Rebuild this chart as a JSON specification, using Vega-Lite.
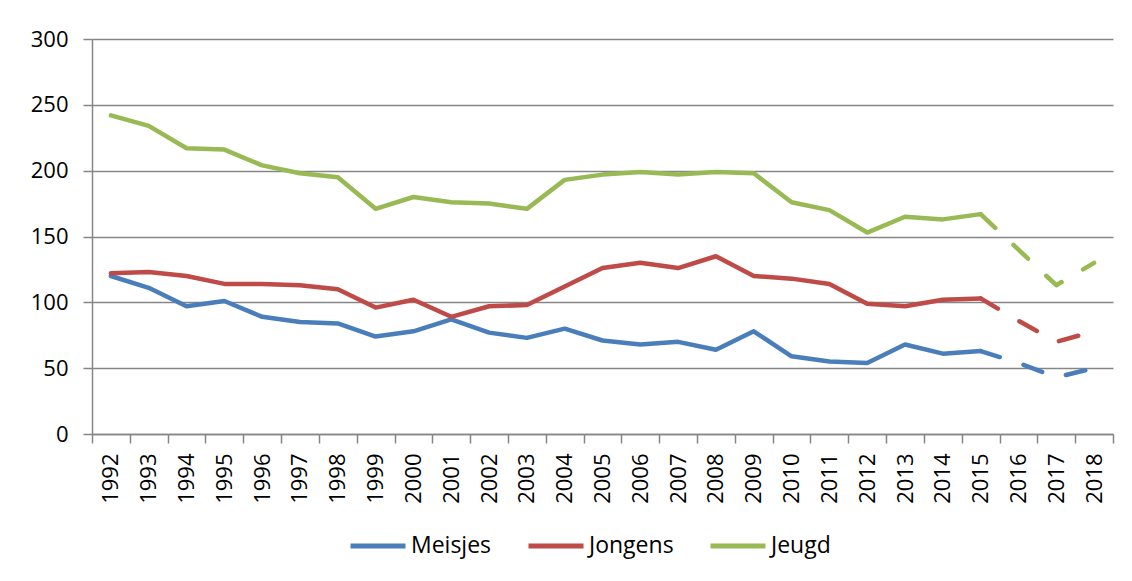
{
  "$schema": "https://vega.github.io/schema/vega-lite/v6.json",
  "width": 1021,
  "height": 395,
  "autosize": "none",
  "padding": {"left": 92, "top": 39, "right": 19, "bottom": 147},
  "background": "white",
  "config": {
    "view": {"stroke": null},
    "font": "Open Sans",
    "axis": {
      "labelFont": "Open Sans",
      "labelFontSize": 22,
      "labelColor": "#000000",
      "domainColor": "#868686",
      "domainWidth": 1.5,
      "tickColor": "#868686",
      "tickWidth": 1.5,
      "tickSize": 9,
      "gridColor": "#868686",
      "gridWidth": 1.5,
      "title": null
    }
  },
  "data": {
    "values": [
      {"year": 1992, "groep": "Meisjes", "aantal": 120}, {"year": 1993, "groep": "Meisjes", "aantal": 111},
      {"year": 1994, "groep": "Meisjes", "aantal": 97}, {"year": 1995, "groep": "Meisjes", "aantal": 101},
      {"year": 1996, "groep": "Meisjes", "aantal": 89}, {"year": 1997, "groep": "Meisjes", "aantal": 85},
      {"year": 1998, "groep": "Meisjes", "aantal": 84}, {"year": 1999, "groep": "Meisjes", "aantal": 74},
      {"year": 2000, "groep": "Meisjes", "aantal": 78}, {"year": 2001, "groep": "Meisjes", "aantal": 87},
      {"year": 2002, "groep": "Meisjes", "aantal": 77}, {"year": 2003, "groep": "Meisjes", "aantal": 73},
      {"year": 2004, "groep": "Meisjes", "aantal": 80}, {"year": 2005, "groep": "Meisjes", "aantal": 71},
      {"year": 2006, "groep": "Meisjes", "aantal": 68}, {"year": 2007, "groep": "Meisjes", "aantal": 70},
      {"year": 2008, "groep": "Meisjes", "aantal": 64}, {"year": 2009, "groep": "Meisjes", "aantal": 78},
      {"year": 2010, "groep": "Meisjes", "aantal": 59}, {"year": 2011, "groep": "Meisjes", "aantal": 55},
      {"year": 2012, "groep": "Meisjes", "aantal": 54}, {"year": 2013, "groep": "Meisjes", "aantal": 68},
      {"year": 2014, "groep": "Meisjes", "aantal": 61}, {"year": 2015, "groep": "Meisjes", "aantal": 63},
      {"year": 2016, "groep": "Meisjes", "aantal": 54}, {"year": 2017, "groep": "Meisjes", "aantal": 43},
      {"year": 2018, "groep": "Meisjes", "aantal": 50},
      {"year": 1992, "groep": "Jongens", "aantal": 122}, {"year": 1993, "groep": "Jongens", "aantal": 123},
      {"year": 1994, "groep": "Jongens", "aantal": 120}, {"year": 1995, "groep": "Jongens", "aantal": 114},
      {"year": 1996, "groep": "Jongens", "aantal": 114}, {"year": 1997, "groep": "Jongens", "aantal": 113},
      {"year": 1998, "groep": "Jongens", "aantal": 110}, {"year": 1999, "groep": "Jongens", "aantal": 96},
      {"year": 2000, "groep": "Jongens", "aantal": 102}, {"year": 2001, "groep": "Jongens", "aantal": 89},
      {"year": 2002, "groep": "Jongens", "aantal": 97}, {"year": 2003, "groep": "Jongens", "aantal": 98},
      {"year": 2004, "groep": "Jongens", "aantal": 112}, {"year": 2005, "groep": "Jongens", "aantal": 126},
      {"year": 2006, "groep": "Jongens", "aantal": 130}, {"year": 2007, "groep": "Jongens", "aantal": 126},
      {"year": 2008, "groep": "Jongens", "aantal": 135}, {"year": 2009, "groep": "Jongens", "aantal": 120},
      {"year": 2010, "groep": "Jongens", "aantal": 118}, {"year": 2011, "groep": "Jongens", "aantal": 114},
      {"year": 2012, "groep": "Jongens", "aantal": 99}, {"year": 2013, "groep": "Jongens", "aantal": 97},
      {"year": 2014, "groep": "Jongens", "aantal": 102}, {"year": 2015, "groep": "Jongens", "aantal": 103},
      {"year": 2016, "groep": "Jongens", "aantal": 86}, {"year": 2017, "groep": "Jongens", "aantal": 70},
      {"year": 2018, "groep": "Jongens", "aantal": 78},
      {"year": 1992, "groep": "Jeugd", "aantal": 242}, {"year": 1993, "groep": "Jeugd", "aantal": 234},
      {"year": 1994, "groep": "Jeugd", "aantal": 217}, {"year": 1995, "groep": "Jeugd", "aantal": 216},
      {"year": 1996, "groep": "Jeugd", "aantal": 204}, {"year": 1997, "groep": "Jeugd", "aantal": 198},
      {"year": 1998, "groep": "Jeugd", "aantal": 195}, {"year": 1999, "groep": "Jeugd", "aantal": 171},
      {"year": 2000, "groep": "Jeugd", "aantal": 180}, {"year": 2001, "groep": "Jeugd", "aantal": 176},
      {"year": 2002, "groep": "Jeugd", "aantal": 175}, {"year": 2003, "groep": "Jeugd", "aantal": 171},
      {"year": 2004, "groep": "Jeugd", "aantal": 193}, {"year": 2005, "groep": "Jeugd", "aantal": 197},
      {"year": 2006, "groep": "Jeugd", "aantal": 199}, {"year": 2007, "groep": "Jeugd", "aantal": 197},
      {"year": 2008, "groep": "Jeugd", "aantal": 199}, {"year": 2009, "groep": "Jeugd", "aantal": 198},
      {"year": 2010, "groep": "Jeugd", "aantal": 176}, {"year": 2011, "groep": "Jeugd", "aantal": 170},
      {"year": 2012, "groep": "Jeugd", "aantal": 153}, {"year": 2013, "groep": "Jeugd", "aantal": 165},
      {"year": 2014, "groep": "Jeugd", "aantal": 163}, {"year": 2015, "groep": "Jeugd", "aantal": 167},
      {"year": 2016, "groep": "Jeugd", "aantal": 140}, {"year": 2017, "groep": "Jeugd", "aantal": 113},
      {"year": 2018, "groep": "Jeugd", "aantal": 130}
    ]
  },
  "encoding": {
    "x": {
      "field": "year",
      "type": "ordinal",
      "bandPosition": 0.5,
      "scale": {"type": "band", "paddingInner": 0, "paddingOuter": 0},
      "axis": {"labelAngle": -90, "labelPadding": 10, "tickBand": "extent", "grid": false}
    },
    "y": {
      "field": "aantal",
      "type": "quantitative",
      "scale": {"domain": [0, 300], "nice": false},
      "axis": {"values": [0, 50, 100, 150, 200, 250, 300], "grid": true, "labelPadding": 15}
    },
    "color": {
      "field": "groep",
      "type": "nominal",
      "scale": {"domain": ["Meisjes", "Jongens", "Jeugd"], "range": ["#4A7EBB", "#BE4B48", "#98B954"]},
      "legend": {
        "title": null,
        "orient": "none",
        "direction": "horizontal",
        "legendX": 256,
        "legendY": 477,
        "symbolType": "stroke",
        "symbolSize": 3025,
        "symbolStrokeWidth": 5,
        "labelFontSize": 23,
        "labelFont": "Open Sans",
        "labelColor": "#000000",
        "labelOffset": 3,
        "columnPadding": 26
      }
    },
    "detail": {"field": "groep"}
  },
  "layer": [
    {
      "transform": [{"filter": "datum.year <= 2015"}],
      "mark": {"type": "line", "strokeWidth": 4.5, "strokeJoin": "round", "strokeCap": "round"}
    },
    {
      "transform": [{"filter": "datum.year >= 2015"}],
      "mark": {"type": "line", "strokeWidth": 4.5, "strokeJoin": "round", "strokeCap": "round", "strokeDash": [20, 25]}
    }
  ]
}
